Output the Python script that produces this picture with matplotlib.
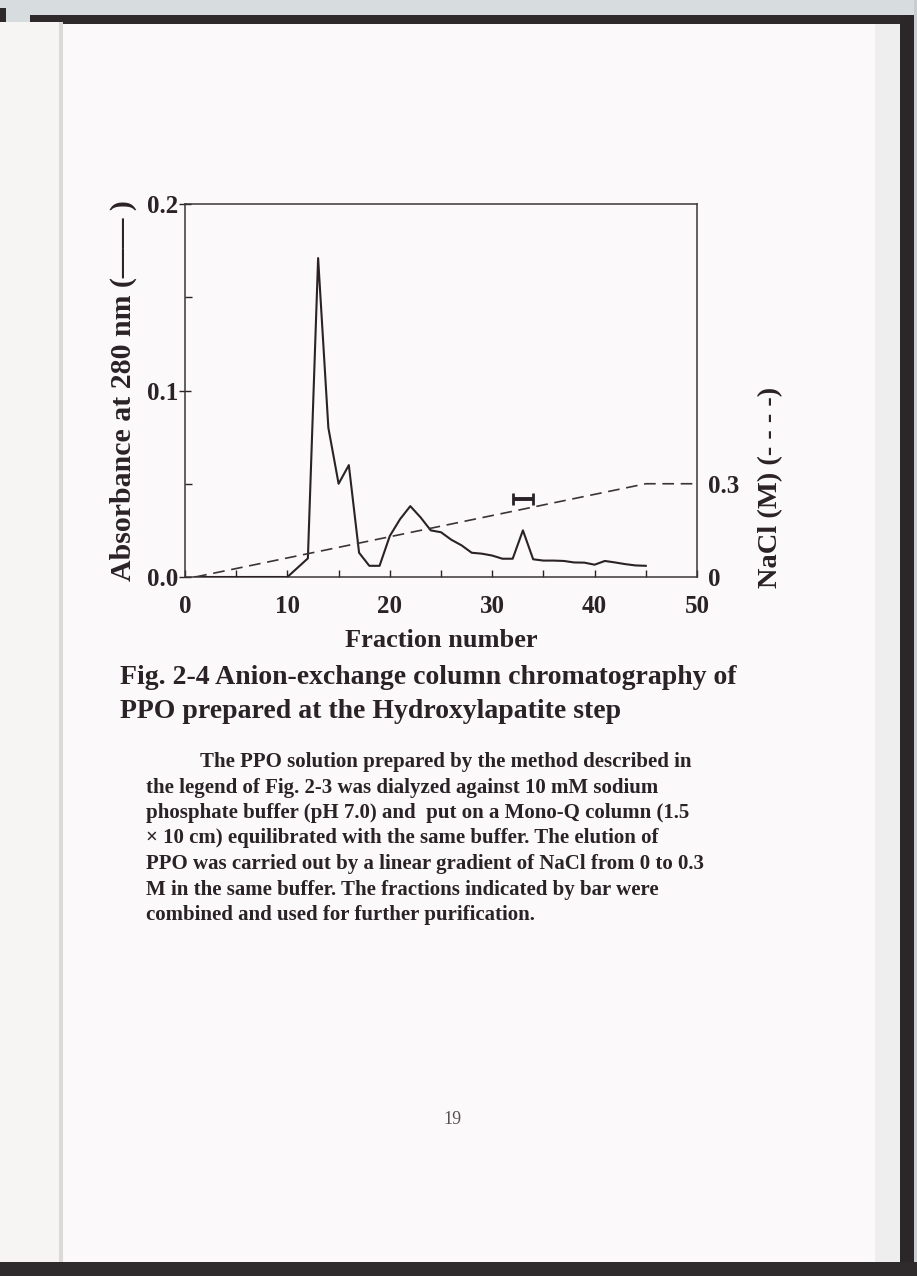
import numpy as np
import matplotlib
matplotlib.use("Agg")
import matplotlib.pyplot as plt
from matplotlib.patches import Rectangle
from matplotlib.ticker import MultipleLocator, FormatStrFormatter

# fraction number vs absorbance at 280 nm
fractions = list(range(1, 46))
absorbance = [0, 0, 0, 0, 0, 0, 0, 0, 0, 0,
              0.005, 0.010, 0.171, 0.080, 0.050, 0.060, 0.013, 0.006, 0.006, 0.022,
              0.031, 0.038, 0.032, 0.025, 0.024, 0.020, 0.017, 0.013, 0.0125, 0.0115,
              0.0098, 0.0098, 0.025, 0.0095, 0.0088, 0.0088, 0.0086, 0.0078, 0.0077, 0.0066,
              0.0086, 0.0078, 0.0069, 0.0062, 0.006]

# NaCl gradient (M)
gradient_x = [1, 45, 50]
gradient_nacl = [0, 0.3, 0.3]

# pooled fractions bar
pool_start, pool_end = 32, 34
pool_level = 0.042

title_lines = ["Fig. 2-4 Anion-exchange column chromatography of",
               "PPO prepared at the Hydroxylapatite step"]
caption_lines = ["The PPO solution prepared by the method described in",
                 "the legend of Fig. 2-3 was dialyzed against 10 mM sodium",
                 "phosphate buffer (pH 7.0) and  put on a Mono-Q column (1.5",
                 "\u00d7 10 cm) equilibrated with the same buffer. The elution of",
                 "PPO was carried out by a linear gradient of NaCl from 0 to 0.3",
                 "M in the same buffer. The fractions indicated by bar were",
                 "combined and used for further purification."]

W, H = 917, 1276
plt.rcParams['font.family'] = ['Liberation Serif', 'DejaVu Serif']
plt.rcParams['font.weight'] = 'bold'
plt.rcParams['axes.labelweight'] = 'bold'
ink = "#2a2226"

fig = plt.figure(figsize=(W / 100, H / 100), dpi=100)
fig.patch.set_facecolor("#fcf9fa")


def box(x0, y0, x1, y1, color, z=0):
    # rectangle given in image pixels (y from the top)
    fig.add_artist(Rectangle((x0 / W, 1 - y1 / H), (x1 - x0) / W, (y1 - y0) / H,
                             transform=fig.transFigure, color=color, zorder=z, lw=0))


# scanned book page surroundings
box(0, 0, W, 22, "#d7dcde")
box(30, 15, 905, 24, "#2e2a2c")
box(0, 8, 6, 22, "#2e2a2c")
box(875, 24, 902, 1262, "#eeeeef")
box(900, 15, 914, 1266, "#2b2729")
box(914, 0, W, H, "#c9cdcf")
box(0, 1262, W, H, "#2f2b2d")
box(0, 22, 60, 1262, "#f7f5f3")
box(59, 22, 63, 1262, "#dcdad6")

ax = fig.add_axes([185 / W, 1 - 577 / H, 512 / W, 373 / H])
ax.set_facecolor("none")
ax.plot(fractions, absorbance, color=ink, lw=1.5, zorder=3)
ax.errorbar((pool_start + pool_end) / 2, pool_level, xerr=(pool_end - pool_start) / 2,
            color=ink, lw=2.8, capsize=4, capthick=2, zorder=3)
ax.set_xlim(0, 50)
ax.set_ylim(0, 0.2)
ax.xaxis.set_major_locator(MultipleLocator(10))
ax.xaxis.set_minor_locator(MultipleLocator(5))
ax.yaxis.set_major_locator(MultipleLocator(0.1))
ax.yaxis.set_minor_locator(MultipleLocator(0.05))
ax.yaxis.set_major_formatter(FormatStrFormatter("%.1f"))
ax.tick_params(axis="x", which="both", direction="in", length=5, width=1, colors=ink,
               labelsize=18, pad=13)
ax.tick_params(axis="y", which="major", direction="inout", length=8, width=1, colors=ink,
               labelsize=18, pad=1)
ax.tick_params(axis="y", which="minor", direction="in", length=5, width=1, colors=ink)
ax.tick_params(top=False)
for s in ax.spines.values():
    s.set_color("#3a3436")
    s.set_linewidth(1.1)
ax.set_xlabel("Fraction number", fontsize=19, color=ink, labelpad=8)
ax.set_ylabel("Absorbance at 280 nm (\u2014\u2014 )", fontsize=21.5, color=ink)
ax.yaxis.set_label_coords(-0.094, 0.5)

ax2 = ax.twinx()
ax2.plot(gradient_x, gradient_nacl, color="#3a3436", lw=1.2, ls=(0, (7, 4)), zorder=2)
ax2.set_ylim(0, 1.2)
ax2.set_yticks([0, 0.3])
ax2.set_yticklabels(["0", "0.3"])
ax2.tick_params(axis="y", direction="in", length=0, colors=ink, labelsize=18, pad=8)
for s in ax2.spines.values():
    s.set_visible(False)
ax2.set_ylabel("NaCl (M) (- - - -)", fontsize=20.5, color=ink)
ax2.yaxis.set_label_coords(1.119, 0.241)

for i, line in enumerate(title_lines):
    fig.text(120 / W, 1 - (677 + 34 * i) / H, line, fontsize=20, color=ink,
             va="center", ha="left")

for i, line in enumerate(caption_lines):
    x0 = 200 if i == 0 else 146
    fig.text(x0 / W, 1 - (762 + 25.5 * i) / H, line, fontsize=15, color=ink,
             va="center", ha="left")

fig.text(452 / W, 1 - 1120 / H, "19", fontsize=13, color="#555052", weight="normal",
         ha="center", va="center")

fig.savefig("out.png", dpi=100, facecolor=fig.get_facecolor())
